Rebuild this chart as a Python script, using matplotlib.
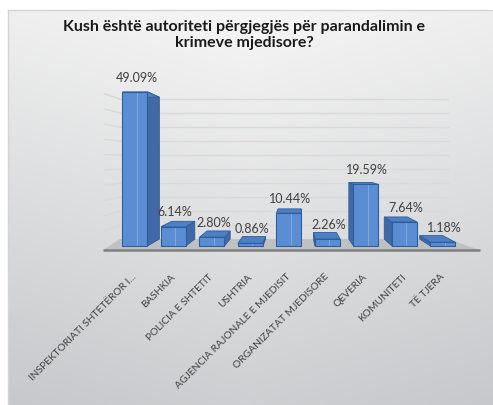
import matplotlib
matplotlib.use("Agg")
import matplotlib.pyplot as plt
import numpy as np
from matplotlib.patches import Polygon

plt.rcParams['font.family'] = ['Lato', 'DejaVu Sans']

title = "Kush është autoriteti përgjegjës për parandalimin e\nkrimeve mjedisore?"
categories = [
    "INSPEKTORIATI SHTETËROR I...",
    "BASHKIA",
    "POLICIA E SHTETIT",
    "USHTRIA",
    "AGJENCIA RAJONALE E MJEDISIT",
    "ORGANIZATAT MJEDISORE",
    "QEVERIA",
    "KOMUNITETI",
    "TË TJERA",
]
values = [49.09, 6.14, 2.80, 0.86, 10.44, 2.26, 19.59, 7.64, 1.18]
grid_levels = [5, 10, 15, 20, 25, 30, 35, 40, 45, 50]

# perspective: back faces are the front faces shrunk toward a vanishing point
VX, VY = 4.18, 27.7
DEPTH = 0.92
BAR_W = 0.65


def to_back(x, y, s=DEPTH):
    return VX + (x - VX) * s, VY + (y - VY) * s


def to_front(x, y, s=DEPTH):
    return VX + (x - VX) / s, VY + (y - VY) / s


def wall_y(v):
    # back wall height for a given percent level
    return 2.2 + 0.892 * v


fig = plt.figure(figsize=(4.93, 4.06), dpi=100)

# chart area background with soft gradient
bg = fig.add_axes([8 / 493, 0, 1 - 8 / 493, (406 - 11) / 406], zorder=-2)
yy, xx = np.mgrid[0:1:200j, 0:1:200j]
t = 0.85 * yy + 0.15 * np.abs(xx - 0.5) * 2
top_c = np.array([0.965, 0.965, 0.965])
bot_c = np.array([0.78, 0.785, 0.795])
img = top_c[None, None, :] * (1 - t[..., None]) + bot_c[None, None, :] * t[..., None]
bg.imshow(img, aspect="auto", extent=[0, 1, 0, 1], origin="upper")
bg.set_xlim(0, 1); bg.set_ylim(0, 1)
bg.set_xticks([]); bg.set_yticks([])
for side in ["right", "bottom"]:
    bg.spines[side].set_visible(False)
for side in ["left", "top"]:
    bg.spines[side].set_color("#d4d4d4")
    bg.spines[side].set_linewidth(1.0)

ax = fig.add_axes([0.2035, 0.3762, 0.7731, 0.4176])
ax.set_xlim(-0.9, 9.0)
ax.set_ylim(-2, 52)
ax.patch.set_alpha(0)
for s in ax.spines.values():
    s.set_visible(False)

# back wall and left wall gridlines
x_back_l, x_back_r = -0.39, 8.13
for v in grid_levels:
    yb = wall_y(v)
    ax.plot([x_back_l, x_back_r], [yb, yb], color="#d9d9d9", lw=1.0, zorder=1)
    fx, fy = to_front(x_back_l, yb)
    ax.plot([fx, x_back_l], [fy, yb], color="#d9d9d9", lw=1.0, zorder=1)

# floor
g0 = wall_y(0)
floor = Polygon([(x_back_l, g0), (x_back_r, g0), (8.96, -1.3), (-0.83, -1.3)],
                closed=True, facecolor="#bfc0c2", edgecolor="none", zorder=2)
ax.add_patch(floor)
ax.plot([-0.83, 8.96], [-1.3, -1.3], color="#808080", lw=1.8, zorder=3,
        solid_capstyle="butt")

front_c = "#5b8dd3"
side_c = "#3f6aa6"
top_c = "#4d7fc4"
edge_c = "#2f5c9a"

for i, v in enumerate(values):
    x0, x1 = i - BAR_W / 2, i + BAR_W / 2
    # side face
    if i < VX:
        sx = x1
    else:
        sx = x0
    bx, by0 = to_back(sx, 0)
    _, by1 = to_back(sx, v)
    ax.add_patch(Polygon([(sx, 0), (sx, v), (bx, by1), (bx, by0)], closed=True,
                         facecolor=side_c, edgecolor=edge_c, lw=0.6, zorder=4))
    # top face
    bl = to_back(x0, v)
    br = to_back(x1, v)
    ax.add_patch(Polygon([(x0, v), (x1, v), br, bl], closed=True,
                         facecolor=top_c, edgecolor=edge_c, lw=0.6, zorder=4))
    # front face
    ax.add_patch(Polygon([(x0, 0), (x1, 0), (x1, v), (x0, v)], closed=True,
                         facecolor=front_c, edgecolor=edge_c, lw=0.8, zorder=5))
    ax.plot([i + 0.05, i + 0.05], [0.3, v - 0.3], color="#86acdf", lw=0.6, zorder=6)
    ax.annotate(f"{v:.2f}%", xy=(i, v), xytext=(1, 11), textcoords="offset points",
                ha="center", va="center", fontsize=9, color="#404040",
                annotation_clip=False, zorder=7)

ax.set_yticks([])
ax.set_xticks(range(len(categories)))
ax.set_xticklabels(categories, rotation=45, ha="right", va="center",
                   rotation_mode="anchor", fontsize=7.4, color="#404040")
ax.tick_params(axis="x", length=0, pad=16)

fig.text(0.495, 0.914, title, ha="center", va="center", fontsize=11.5,
         fontweight="bold", color="#1a1a1a", linespacing=1.2)

fig.savefig("out.png", dpi=100)
